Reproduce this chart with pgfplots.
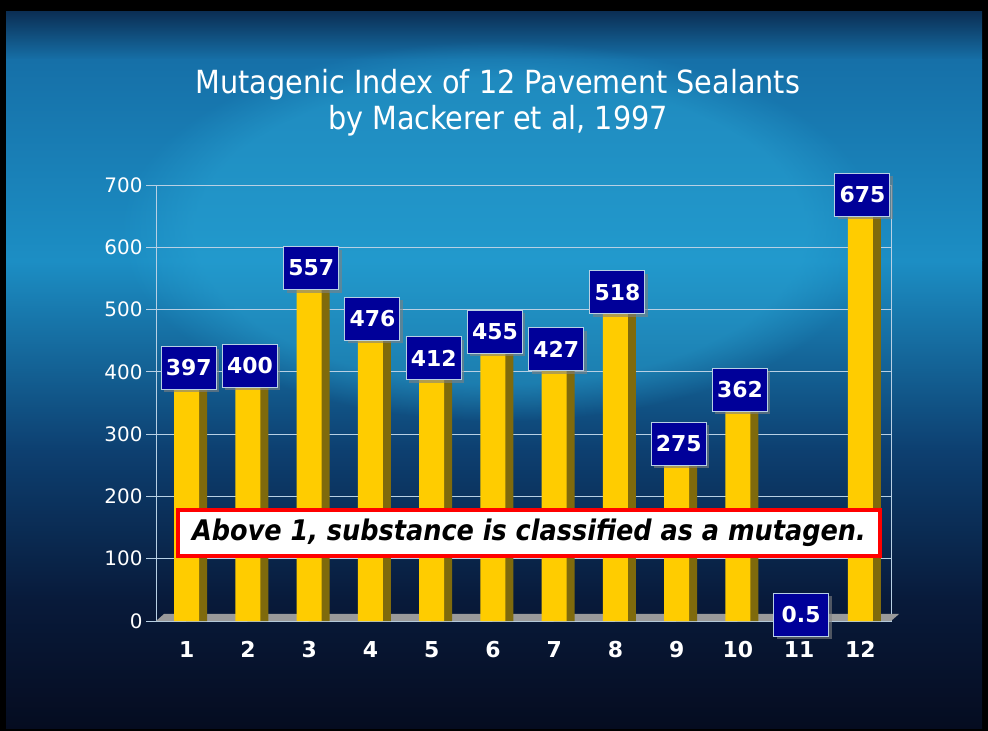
\documentclass[border=0pt]{standalone}
\usepackage{pgfplots}
\pgfplotsset{compat=1.18}
\usepackage{fontspec}
\setmainfont{DejaVu Sans}
\newfontfamily\condfont{DejaVu Sans Condensed}
\usetikzlibrary{shadows,fadings}
\definecolor{bgA}{HTML}{0B2F55}
\definecolor{bgB}{HTML}{1670A8}
\definecolor{bgC}{HTML}{1C8EC4}
\definecolor{bgD}{HTML}{0D3F70}
\definecolor{bgE}{HTML}{081A3A}
\definecolor{bgF}{HTML}{050C20}
\definecolor{glow}{HTML}{2AA8D8}
\definecolor{gridc}{HTML}{B8D0E4}
\definecolor{baryel}{HTML}{FFCC00}
\definecolor{barside}{HTML}{7F6A0C}
\definecolor{navylab}{HTML}{000099}
\definecolor{floorc}{HTML}{9A9A9A}
\begin{document}
\begin{tikzpicture}
\useasboundingbox (0bp,0bp) rectangle (988bp,731bp);
% background
\fill[black] (0bp,0bp) rectangle (988bp,731bp);
\shade[top color=bgA, bottom color=bgB] (6bp,671bp) rectangle (982bp,719bp);
\shade[top color=bgB, bottom color=bgC] (6bp,470bp) rectangle (982bp,671bp);
\shade[top color=bgC, bottom color=bgD] (6bp,280bp) rectangle (982bp,470bp);
\shade[top color=bgD, bottom color=bgE] (6bp,130bp) rectangle (982bp,280bp);
\shade[top color=bgE, bottom color=bgF] (6bp,2bp) rectangle (982bp,130bp);
\fill[glow, path fading=circle with fuzzy edge 20 percent, opacity=0.45] (500bp,500bp) ellipse (380bp and 190bp);
% title
\node[text=white, font=\condfont\fontsize{32}{36}\selectfont, align=center] at (498bp,628bp) {Mutagenic Index of 12 Pavement Sealants\\by Mackerer et al, 1997};
\begin{axis}[
  at={(156bp,110bp)}, anchor=south west, scale only axis,
  width=735bp, height=436bp,
  xmin=0.5, xmax=12.5, ymin=0, ymax=700,
  ytick={0,100,...,700}, xtick={1,...,12},
  minor xtick={0.5,1.5,...,12.5},
  ymajorgrids, major grid style={gridc, line width=1bp},
  axis line style={gridc, line width=1bp},
  tick align=outside, ytick pos=left, xtick pos=bottom,
  major tick length=10bp, minor tick length=8bp,
  xtick style={draw=none}, minor tick style={draw=gridc, line width=1bp},
  ytick style={draw=gridc, line width=1bp},
  /pgf/number format/assume math mode=true,
  yticklabel style={font=\fontsize{20}{24}\selectfont, text=white},
  xticklabel style={font=\bfseries\fontsize{22}{26}\selectfont, text=white, yshift=-7bp},
  clip=false,
  ybar,
]
\fill[floorc] (axis cs:0.5,0) -- (axis cs:12.5,0) -- ([xshift=8bp,yshift=7bp]axis cs:12.5,0) -- ([xshift=8bp,yshift=7bp]axis cs:0.5,0) -- cycle;
\addplot[fill=barside, draw=none, bar width=21bp, bar shift=10bp] coordinates {
(1,397) (2,400) (3,557) (4,476) (5,412) (6,455) (7,427) (8,518) (9,275) (10,362) (11,0.5) (12,675)};
\addplot[fill=baryel, draw=none, bar width=25bp, bar shift=0bp,
  nodes near coords,
  every node near coord/.style={anchor=center, yshift=6bp, xshift=2bp, fill=navylab, draw=gridc, line width=1bp,
    text=white, font=\bfseries\fontsize{22}{24}\selectfont, minimum width=55bp, minimum height=43bp,
    inner sep=2bp, drop shadow={shadow xshift=3bp, shadow yshift=-3bp, opacity=0.6},
    /pgf/number format/assume math mode=true}] coordinates {
(1,397) (2,400) (3,557) (4,476) (5,412) (6,455) (7,427) (8,518) (9,275) (10,362) (11,0.5) (12,675)};
\end{axis}
\node[fill=white, draw=red, line width=3.5bp, minimum width=702bp, minimum height=46bp, inner sep=0pt,
  font=\condfont\bfseries\itshape\fontsize{28.5}{32}\selectfont, text=black] at (529bp,198bp) {Above 1, substance is classified as a mutagen.};
\end{tikzpicture}
\end{document}
